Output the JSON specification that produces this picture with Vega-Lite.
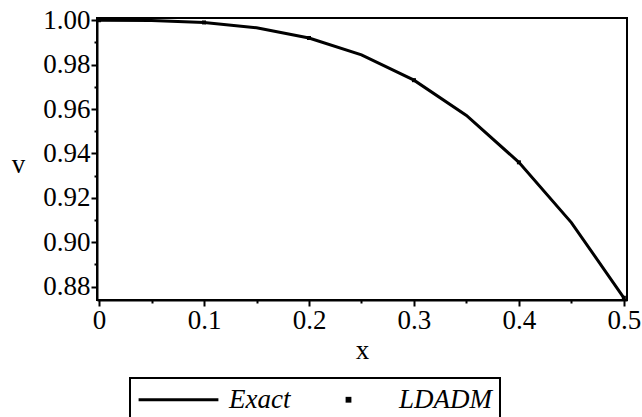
{
  "$schema": "https://vega.github.io/schema/vega-lite/v6.json",
  "width": 530,
  "height": 282,
  "autosize": {"type": "none"},
  "padding": {"left": 97, "top": 18, "right": 15, "bottom": 117},
  "background": "white",
  "config": {
    "view": {"stroke": "black", "strokeWidth": 2},
    "font": "'Liberation Serif', 'Times New Roman', serif",
    "legend": {"strokeWidth": 2},
    "axis": {"grid": false, "labelColor": "black", "tickColor": "black", "domainColor": "black", "titleColor": "black", "labelFont": "'Liberation Serif', 'Times New Roman', serif", "titleFont": "'Liberation Serif', 'Times New Roman', serif", "titleFontWeight": "normal"}
  },
  "data": {
    "values": [
      {"x": 0.0, "v": 1.0, "series": "Exact"},
      {"x": 0.05, "v": 0.99988, "series": "Exact"},
      {"x": 0.1, "v": 0.999, "series": "Exact"},
      {"x": 0.15, "v": 0.99663, "series": "Exact"},
      {"x": 0.2, "v": 0.992, "series": "Exact"},
      {"x": 0.25, "v": 0.98438, "series": "Exact"},
      {"x": 0.3, "v": 0.973, "series": "Exact"},
      {"x": 0.35, "v": 0.95713, "series": "Exact"},
      {"x": 0.4, "v": 0.936, "series": "Exact"},
      {"x": 0.45, "v": 0.90888, "series": "Exact"},
      {"x": 0.5, "v": 0.875, "series": "Exact"},
      {"x": 0.0, "v": 1.0, "series": "LDADM"},
      {"x": 0.1, "v": 0.999, "series": "LDADM"},
      {"x": 0.2, "v": 0.992, "series": "LDADM"},
      {"x": 0.3, "v": 0.973, "series": "LDADM"},
      {"x": 0.4, "v": 0.936, "series": "LDADM"},
      {"x": 0.5, "v": 0.875, "series": "LDADM"}
    ]
  },
  "layer": [
    {
      "transform": [{"filter": "datum.series === 'Exact'"}],
      "mark": {"type": "line", "color": "black", "strokeWidth": 3},
      "encoding": {
        "x": {
          "field": "x", "type": "quantitative",
          "scale": {"domain": [-0.002, 0.503], "nice": false, "zero": false},
          "axis": {
            "values": [0, 0.1, 0.2, 0.3, 0.4, 0.5], "format": ".1~f",
            "labelFontSize": 27, "tickSize": 6, "tickWidth": 2, "domainWidth": 2, "labelPadding": 1,
            "title": "x", "titleFontSize": 27, "titleY": 58, "titleBaseline": "alphabetic"
          }
        },
        "y": {
          "field": "v", "type": "quantitative",
          "scale": {"domain": [0.874, 1.001], "nice": false, "zero": false},
          "axis": {
            "values": [0.88, 0.9, 0.92, 0.94, 0.96, 0.98, 1.0], "format": ".2f",
            "labelFontSize": 27, "tickSize": 6, "tickWidth": 2, "domainWidth": 2, "labelPadding": 1,
            "title": "v", "titleFontSize": 27, "titleAngle": 0, "titleX": -79, "titleY": 154,
            "titleAlign": "center", "titleBaseline": "alphabetic"
          }
        }
      }
    },
    {
      "transform": [{"filter": "datum.series === 'LDADM'"}],
      "mark": {"type": "point", "filled": false, "color": "black", "opacity": 1, "size": 100, "strokeWidth": 2},
      "encoding": {
        "x": {
          "field": "x", "type": "quantitative",
          "axis": {"orient": "bottom", "values": [0.05, 0.15, 0.25, 0.35, 0.45], "labels": false, "domain": false, "tickSize": 3, "tickWidth": 2, "title": null}
        },
        "y": {
          "field": "v", "type": "quantitative",
          "axis": {"orient": "left", "values": [0.89, 0.91, 0.93, 0.95, 0.97, 0.99], "labels": false, "domain": false, "tickSize": 3, "tickWidth": 2, "title": null}
        },
        "shape": {
          "field": "series", "type": "nominal",
          "scale": {"domain": ["Exact", "LDADM"], "range": ["M-5.7,0H5.7", "M-0.2,-0.2H0.2V0.2H-0.2Z"]},
          "legend": {
            "orient": "none", "legendX": 33, "legendY": 360, "direction": "horizontal", "title": null,
            "strokeColor": "black", "padding": 8,
            "labelFont": "'Liberation Serif', 'Times New Roman', serif", "labelFontStyle": "italic", "labelFontSize": 27, "labelColor": "black",
            "symbolSize": 196, "symbolStrokeWidth": 3, "symbolStrokeColor": "black", "symbolFillColor": "black",
            "symbolOffset": 27, "labelOffset": 37, "columnPadding": 17
          }
        }
      }
    }
  ],
  "resolve": {"axis": {"x": "independent", "y": "independent"}}
}
